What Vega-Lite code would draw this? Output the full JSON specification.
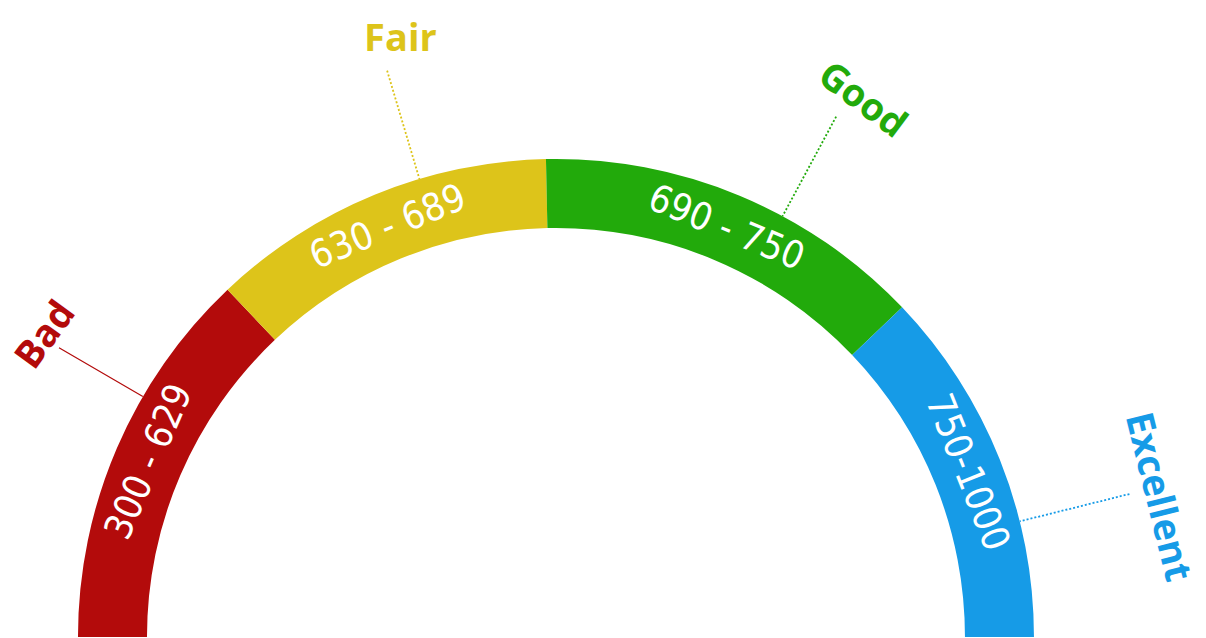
{
  "$schema": "https://vega.github.io/schema/vega-lite/v6.json",
  "width": 1206,
  "height": 638,
  "autosize": "none",
  "padding": 0,
  "background": "white",
  "config": {"view": {"stroke": null}},
  "data": {
    "values": [
      {"label": "Bad", "range": "300 - 629", "span": 46.6, "labelAt": 30.6, "leaderAt": 30.2},
      {"label": "Fair", "range": "630 - 689", "span": 42.2, "labelAt": 75.4, "leaderAt": 73.4},
      {"label": "Good", "range": "690 - 750", "span": 47.6, "labelAt": 119.7, "leaderAt": 118.3},
      {"label": "Excellent", "range": "750-1000", "span": 43.6, "labelAt": 166.9, "leaderAt": 166.0}
    ]
  },
  "layer": [
    {
      "mark": {"type": "arc", "x": {"expr": "width*0.461"}, "y": {"expr": "height-1"}, "radius": 478, "radius2": 409},
      "encoding": {
        "theta": {"field": "span", "type": "quantitative", "stack": true, "scale": {"domain": [0, 180], "range": [-1.5707963, 1.5707963]}},
        "order": {"field": "range", "sort": "ascending"},
        "color": {"field": "label", "type": "nominal", "legend": null,
          "scale": {"domain": ["Bad", "Fair", "Good", "Excellent"], "range": ["#b30b0b", "#ddc41a", "#22aa0b", "#169be7"]}}
      }
    },
    {
      "transform": [{"filter": "datum.label === 'Bad'"}],
      "mark": {"type": "arc", "filled": false, "strokeWidth": 1.2, "x": {"expr": "width*0.461"}, "y": {"expr": "height-1"}, "radius": 575, "radius2": 478},
      "encoding": {
        "theta": {"field": "leaderAt", "type": "quantitative", "stack": null},
        "theta2": {"field": "leaderAt"},
        "color": {"field": "label", "type": "nominal", "legend": null}
      }
    },
    {
      "transform": [{"filter": "datum.label !== 'Bad'"}],
      "mark": {"type": "arc", "filled": false, "strokeWidth": 1.8, "strokeDash": [2, 2], "x": {"expr": "width*0.461"}, "y": {"expr": "height-1"}, "radius": 591, "radius2": 478},
      "encoding": {
        "theta": {"field": "leaderAt", "type": "quantitative", "stack": null},
        "theta2": {"field": "leaderAt"},
        "color": {"field": "label", "type": "nominal", "legend": null}
      }
    },
    {
      "mark": {"type": "text", "x": {"expr": "width*0.461"}, "y": {"expr": "height-1"}, "radius": 443, "font": "DejaVu Sans Condensed", "fontSize": 38, "fill": "white", "align": "center", "baseline": "middle", "dy": 1},
      "encoding": {
        "theta": {"field": "span", "type": "quantitative", "stack": true},
        "order": {"field": "range", "sort": "ascending"},
        "detail": {"field": "label", "type": "nominal"},
        "text": {"field": "range", "type": "nominal"},
        "angle": {"field": "label", "type": "nominal", "legend": null,
          "scale": {"type": "ordinal", "domain": ["Bad", "Fair", "Good", "Excellent"], "range": [-66.7, -22.3, 22.6, 68.2]}}
      }
    },
    {
      "transform": [{"filter": "datum.label === 'Bad'"}],
      "mark": {"type": "text", "x": {"expr": "width*0.461"}, "y": {"expr": "height-1"}, "radius": 592, "font": "Open Sans", "fontWeight": "bold", "fontSize": 38, "align": "center", "baseline": "middle", "angle": 306},
      "encoding": {
        "theta": {"field": "labelAt", "type": "quantitative", "stack": null},
        "color": {"field": "label", "type": "nominal", "legend": null},
        "text": {"field": "label", "type": "nominal"}
      }
    },
    {
      "transform": [{"filter": "datum.label !== 'Bad'"}],
      "mark": {"type": "text", "x": {"expr": "width*0.461"}, "y": {"expr": "height-1"}, "radius": 617, "font": "Open Sans", "fontWeight": "bold", "fontSize": 38, "align": "center", "baseline": "middle"},
      "encoding": {
        "theta": {"field": "labelAt", "type": "quantitative", "stack": null},
        "color": {"field": "label", "type": "nominal", "legend": null},
        "text": {"field": "label", "type": "nominal"},
        "angle": {"field": "label", "type": "nominal", "legend": null,
          "scale": {"type": "ordinal", "domain": ["Fair", "Good", "Excellent"], "range": [0, 37, 76]}}
      }
    }
  ],
  "resolve": {"scale": {"angle": "independent"}}
}
